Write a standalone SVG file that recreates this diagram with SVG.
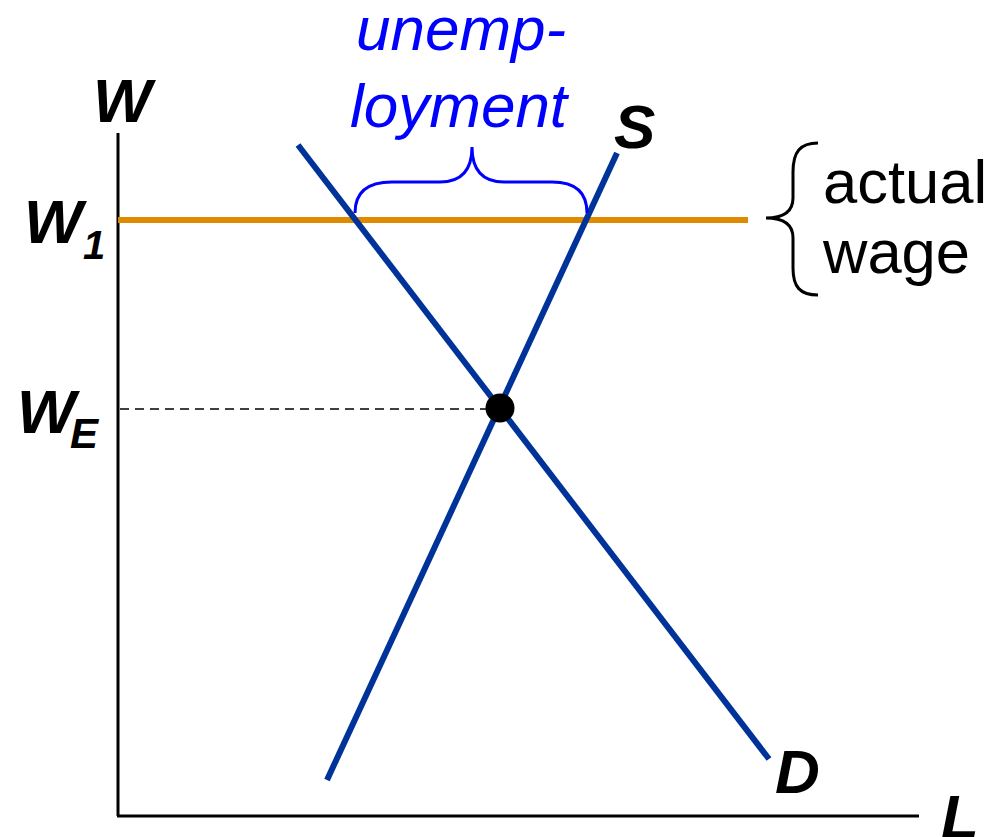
<svg xmlns="http://www.w3.org/2000/svg" width="1008" height="837" viewBox="0 0 1008 837">
<style>
.lbl{font-family:"Liberation Sans",Arial,sans-serif;font-weight:bold;font-style:italic;fill:#000}
.sub{font-family:"Liberation Sans",Arial,sans-serif;font-weight:bold;font-style:italic;fill:#000}
.curve{stroke:#003399;stroke-width:6;fill:none}
.axis{stroke:#000;stroke-width:3;fill:none}
.note{font-family:"Liberation Sans",Arial,sans-serif;font-size:61.5px;fill:#000}
.unemp{font-family:"Liberation Sans",Arial,sans-serif;font-size:62px;font-style:italic;fill:#0000ff}
</style>
<rect width="1008" height="837" fill="#fff"/>
<g id="axes">
<line class="axis" x1="118" y1="133" x2="118" y2="816"/>
<line class="axis" x1="117" y1="816" x2="919" y2="816"/>
<text class="lbl" x="93" y="122" font-size="62">W</text>
<text class="lbl" x="941" y="838" font-size="62">L</text>
</g>
<g id="wage-levels">
<line x1="118" y1="220" x2="748" y2="220" stroke="#e08a00" stroke-width="6"/>
<line x1="120" y1="409" x2="500" y2="409" stroke="#000" stroke-width="1.5" stroke-dasharray="9,6"/>
<text class="lbl" x="24" y="243" font-size="62">W</text>
<text class="sub" x="83" y="259" font-size="40">1</text>
<text class="lbl" x="17" y="433" font-size="62">W</text>
<text class="sub" x="70" y="448" font-size="42">E</text>
</g>
<g id="connectors">
<line class="curve" x1="298" y1="145" x2="769" y2="759"/>
<line class="curve" x1="617" y1="153" x2="327" y2="780"/>
</g>
<g id="demand-label"><text class="lbl" x="775" y="793" font-size="62">D</text></g>
<g id="supply-label"><text class="lbl" x="614" y="148" font-size="62">S</text></g>
<g id="equilibrium"><circle cx="500" cy="408" r="14.5" fill="#000"/></g>
<g id="unemployment">
<path d="M355,213 C355,193 367,182 392,182 L440,182 C462,182 472,170 472,147 C472,170 482,182 504,182 L552,182 C576,182 587,193 587,213" fill="none" stroke="#0000ff" stroke-width="3"/>
<text class="unemp" x="356" y="50">unemp-</text>
<text class="unemp" x="350" y="127">loyment</text>
</g>
<g id="actual-wage">
<path d="M818,143 C800,143 793,152 793,172 L793,198 C793,211 785,218 766,218 C785,218 793,225 793,238 L793,268 C793,287 800,295 818,295" fill="none" stroke="#000" stroke-width="3"/>
<text class="note" x="823" y="203">actual</text>
<text class="note" x="823" y="273">wage</text>
</g>
</svg>
